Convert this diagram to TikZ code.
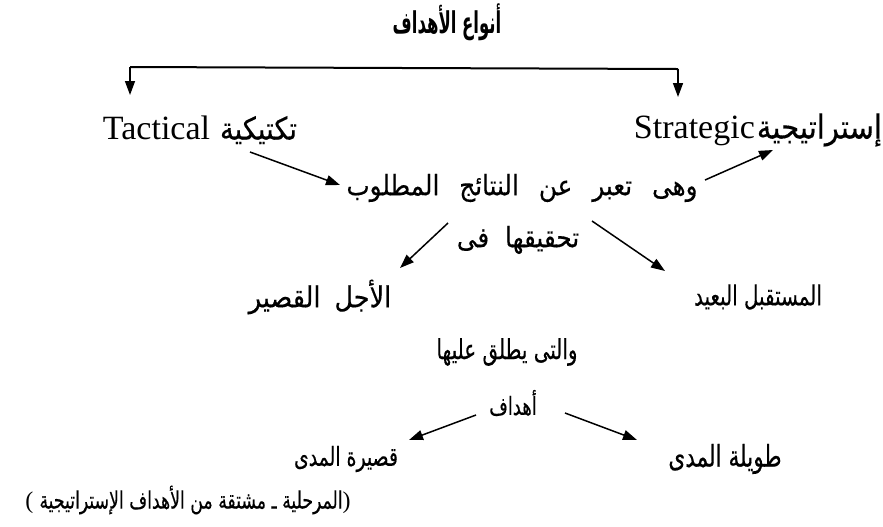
\documentclass[tikz,border=0pt]{standalone}
\usepackage{fontspec}
\setmainfont{Liberation Serif}
\newfontfamily\arabicfont[Script=Arabic,FakeStretch=0.88,FakeBold=0.3]{DejaVu Sans}
\newfontfamily\arabicnarrow[Script=Arabic,FakeStretch=0.72,FakeBold=0.3]{DejaVu Sans}
\newfontfamily\arabictitle[Script=Arabic,FakeStretch=0.55]{DejaVu Sans Bold}
\TeXXeTstate=1
\usetikzlibrary{arrows.meta}
\newcommand{\artxt}[1]{{\arabicfont\beginR #1\endR}}
\newcommand{\artxtn}[1]{{\arabicnarrow\beginR #1\endR}}

\begin{document}
\begin{tikzpicture}[x=0.5pt,y=-0.5pt,
    arr/.style={line width=0.75pt,-{Triangle[length=7pt,width=5pt]}},
    lbl/.style={font=\fontsize{#1}{#1}\selectfont, inner sep=1pt},
    lbl/.default=12]
  \useasboundingbox (0,0) rectangle (883,526);
  \node[lbl] (title) at (447,22) {\arabictitle\fontsize{15}{15}\selectfont\beginR أنواع الأهداف\endR};
  \node[lbl=17] (tact) at (200,130) {Tactical\hspace{5pt}{\fontsize{15.5}{15.5}\selectfont\artxt{تكتيكية}}};
  \node[lbl=17] (strat) at (758,130) {Strategic\hspace{1pt}{\fontsize{16.5}{16.5}\selectfont\artxt{إستراتيجية}}};
  \node[lbl=14] (res) at (522,188) {\spaceskip=10pt\artxt{وهى تعبر عن النتائج المطلوب}};
  \node[lbl=14] (fi) at (518,240) {\spaceskip=8pt\artxt{تحقيقها فى}};
  \node[lbl=14.5] (ajal) at (320,297) {\spaceskip=7pt\artxt{الأجل القصير}};
  \node[lbl=13.8] (mustaqbal) at (758,297) {\artxtn{المستقبل البعيد}};
  \node[lbl=13.8] (wallati) at (507,352) {\artxtn{والتى يطلق عليها}};
  \node[lbl=12.5] (ahdaf) at (513,403) {\artxtn{أهداف}};
  \node[lbl=13.1] (qasira) at (346,459) {\artxtn{قصيرة المدى}};
  \node[lbl=15] (tawila) at (725,459) {\artxtn{طويلة المدى}};
  \node[lbl=12] (note) at (188,500) {( \artxtn{المرحلية ـ مشتقة من الأهداف الإستراتيجية})};
  % bracket under the title
  \coordinate (bl) at (130,67);
  \coordinate (br) at (678,69);
  \draw[line width=1pt] (bl) -- (br);
  \draw[arr] (bl) -- ++(0,28);
  \draw[arr] (br) -- ++(0,28);
  % arrows
  \draw[arr] ([shift={(50,22)}]tact.center) -- ([shift={(-182,-3)}]res.center);
  \draw[arr] ([shift={(183,-8)}]res.center) -- ([shift={(15,20)}]strat.center);
  \draw[arr] ([shift={(-70,-17)}]fi.center) -- ([shift={(80,-29)}]ajal.center);
  \draw[arr] ([shift={(74,-19)}]fi.center) -- ([shift={(-93,-26)}]mustaqbal.center);
  \draw[arr] ([shift={(-37,12)}]ahdaf.center) -- ([shift={(63,-19)}]qasira.center);
  \draw[arr] ([shift={(52,10)}]ahdaf.center) -- ([shift={(-88,-19)}]tawila.center);
\end{tikzpicture}
\end{document}
